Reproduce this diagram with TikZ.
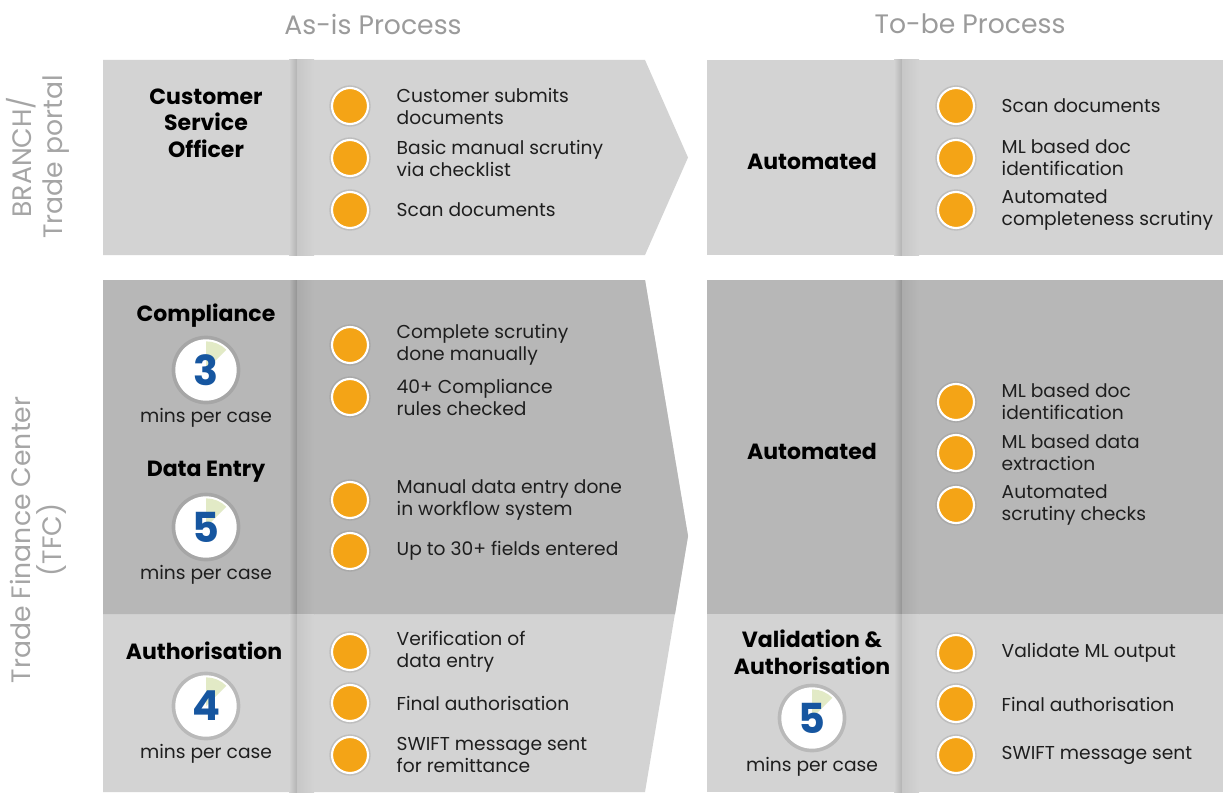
\documentclass[tikz,border=0pt]{standalone}
\usepackage{fontspec}
\setmainfont{Poppins}
\usetikzlibrary{shadows}
\definecolor{panel}{RGB}{211,211,211}
\definecolor{panelDark}{RGB}{183,183,183}
\definecolor{dotOrange}{RGB}{244,164,22}
\definecolor{numBlue}{RGB}{22,86,160}
\definecolor{wedgeGreen}{RGB}{226,234,198}
\definecolor{headGray}{RGB}{155,155,155}
\definecolor{txt}{RGB}{30,30,30}
\begin{document}
\begin{tikzpicture}[x=0.75pt, y=-0.75pt,
    every node/.style={font=\fontsize{14}{16.5}\selectfont, text=txt},
    dot/.style={circle, fill=dotOrange, draw=white, line width=1.6pt, minimum size=27pt, inner sep=0pt,
      drop shadow={opacity=0.25, shadow xshift=0pt, shadow yshift=0pt, shadow scale=1.15}},
    item/.style={anchor=west, align=left},
    role/.style={font=\fontsize{16.5}{20}\selectfont\bfseries, align=center, text=black},
    clock/.style={circle, fill=white, minimum size=46pt, inner sep=0pt,
      drop shadow={opacity=0.3, shadow xshift=0pt, shadow yshift=0pt, shadow scale=1.12}},
    num/.style={font=\fontsize{31}{31}\selectfont\bfseries, text=numBlue},
    head/.style={font=\fontsize{20}{23}\selectfont, text=headGray},
    side/.style={font=\fontsize{20}{23}\selectfont, text=headGray!90, rotate=90, align=center}]
      \useasboundingbox (0,0) rectangle (1223,792);
      \fill[white] (0,0) rectangle (1223,792);
      % panels
      \fill[panel] (103,60) -- (645,60) -- (688,157.5) -- (645,255) -- (103,255) -- cycle;
      \fill[panel] (103,280) -- (645,280) -- (688,536) -- (645,792) -- (103,792) -- cycle;
      \fill[panelDark] (103,280) -- (645,280) -- (688,536) -- (675,614) -- (103,614) -- cycle;
      \fill[panel] (707,60) rectangle (1223,255);
      \fill[panelDark] (707,280) rectangle (1223,614);
      \fill[panel] (707,614) rectangle (1223,792);
      % dividers
      \shade[left color=panel, right color=black!30] (289,60) rectangle (297,255);
      \shade[left color=black!22, right color=panel] (297,60) rectangle (314,255);
      \shade[left color=panelDark, right color=black!42] (289,280) rectangle (297,614);
      \shade[left color=black!33, right color=panelDark] (297,280) rectangle (314,614);
      \shade[left color=panel, right color=black!30] (289,614) rectangle (297,792);
      \shade[left color=black!22, right color=panel] (297,614) rectangle (314,792);
      \shade[left color=panel, right color=black!30] (894,60) rectangle (902,255);
      \shade[left color=black!22, right color=panel] (902,60) rectangle (919,255);
      \shade[left color=panelDark, right color=black!42] (894,280) rectangle (902,614);
      \shade[left color=black!33, right color=panelDark] (902,280) rectangle (919,614);
      \shade[left color=panel, right color=black!30] (894,614) rectangle (902,792);
      \shade[left color=black!22, right color=panel] (902,614) rectangle (919,792);
      % headings
      \node[head] (hAs) at (373,24) {As-is Process};
      \node[head] (hTo) at (970,24) {To-be Process};
      \node[side] (sBr) at (38,157) {BRANCH/\\Trade portal};
      \node[side] (sTfc) at (38,540) {Trade Finance Center\\(TFC)};
      % branch, as-is
      \node[role] (cso) at (206,123) {Customer\\Service\\Officer};
      \node[dot] (a1) at (350,106) {};
      \node[dot] (a2) at (350,158) {};
      \node[dot] (a3) at (350,210) {};
      \node[item] (ta1) at (392,106) {Customer submits\\documents};
      \node[item] (ta2) at (392,158) {Basic manual scrutiny\\via checklist};
      \node[item] (ta3) at (392,210) {Scan documents};
      % branch, to-be
      \node[role] (au1) at (812,161) {Automated};
      \node[dot] (b1) at (956,106) {};
      \node[dot] (b2) at (956,158) {};
      \node[dot] (b3) at (956,210) {};
      \node[item] (tb1) at (997,106) {Scan documents};
      \node[item] (tb2) at (997,158) {ML based doc\\identification};
      \node[item] (tb3) at (997,210) {Automated\\completeness scrutiny};
      % TFC, as-is
      \node[role] (cmp) at (206,316) {Compliance};
      \node[clock] (c1) at (206,370) {};
      \fill[wedgeGreen] (c1.center) -- ++(90:21.5pt) arc[start angle=90, end angle=45, radius=21.5pt] -- cycle;
      \node[num] at (c1) {3};
      \node (m1) at (206,418) {mins per case};
      \node[dot] (a4) at (350,345) {};
      \node[dot] (a5) at (350,397) {};
      \node[item] (ta4) at (392,345) {Complete scrutiny\\done manually};
      \node[item] (ta5) at (392,397) {40+ Compliance\\rules checked};
      \node[role] (de) at (206,472) {Data Entry};
      \node[clock] (c2) at (206,527) {};
      \fill[wedgeGreen] (c2.center) -- ++(90:21.5pt) arc[start angle=90, end angle=45, radius=21.5pt] -- cycle;
      \node[num] at (c2) {5};
      \node (m2) at (206,575) {mins per case};
      \node[dot] (a6) at (350,500) {};
      \node[dot] (a7) at (350,551) {};
      \node[item] (ta6) at (392,500) {Manual data entry done\\in workflow system};
      \node[item] (ta7) at (392,551) {Up to 30+ fields entered};
      \node[role] (ath) at (204,651) {Authorisation};
      \node[clock] (c3) at (206,706) {};
      \fill[wedgeGreen] (c3.center) -- ++(90:21.5pt) arc[start angle=90, end angle=45, radius=21.5pt] -- cycle;
      \node[num] at (c3) {4};
      \node (m3) at (206,754) {mins per case};
      \node[dot] (a8) at (350,652) {};
      \node[dot] (a9) at (350,703) {};
      \node[dot] (a10) at (350,755) {};
      \node[item] (ta8) at (392,652) {Verification of\\data entry};
      \node[item] (ta9) at (392,703) {Final authorisation};
      \node[item] (ta10) at (392,755) {SWIFT message sent\\for remittance};
      % TFC, to-be
      \node[role] (au2) at (812,451) {Automated};
      \node[dot] (b4) at (956,402) {};
      \node[dot] (b5) at (956,453) {};
      \node[dot] (b6) at (956,505) {};
      \node[item] (tb4) at (997,402) {ML based doc\\identification};
      \node[item] (tb5) at (997,453) {ML based data\\extraction};
      \node[item] (tb6) at (997,505) {Automated\\scrutiny checks};
      \node[role] (va) at (812,652) {Validation \&\\Authorisation};
      \node[clock] (c4) at (812,718) {};
      \fill[wedgeGreen] (c4.center) -- ++(90:21.5pt) arc[start angle=90, end angle=45, radius=21.5pt] -- cycle;
      \node[num] at (c4) {5};
      \node (m4) at (812,767) {mins per case};
      \node[dot] (b7) at (956,653) {};
      \node[dot] (b8) at (956,704) {};
      \node[dot] (b9) at (956,755) {};
      \node[item] (tb7) at (997,653) {Validate ML output};
      \node[item] (tb8) at (997,704) {Final authorisation};
      \node[item] (tb9) at (997,755) {SWIFT message sent};
    \end{tikzpicture}
\end{document}
